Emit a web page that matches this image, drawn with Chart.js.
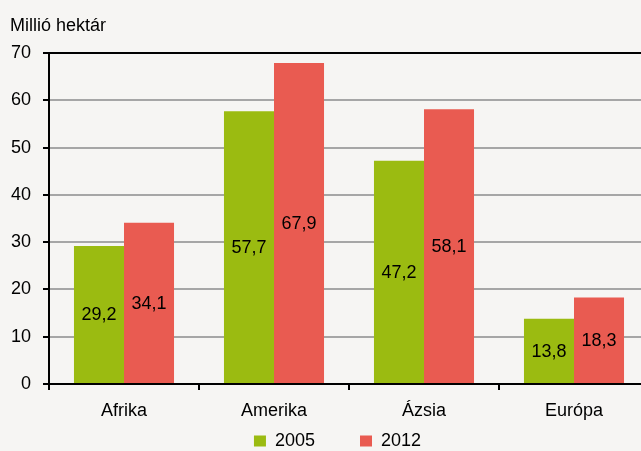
<!DOCTYPE html>
<html>
<head>
<meta charset="utf-8">
<script src="https://cdn.jsdelivr.net/npm/chart.js@4"></script>
<style>
  html, body { margin: 0; padding: 0; background: #f6f5f3; overflow: hidden; }
  #wrap { width: 660px; height: 460px; }
</style>
</head>
<body>
<div id="wrap"><canvas id="chart"></canvas></div>
<script>
// adatok
const categories = ['Afrika', 'Amerika', 'Ázsia', 'Európa'];
const values2005 = [29.2, 57.7, 47.2, 13.8];
const values2012 = [34.1, 67.9, 58.1, 18.3];
const seriesLabels = ['2005', '2012'];
const yTicks = [0, 10, 20, 30, 40, 50, 60, 70];
const yTitle = 'Millió hektár';

const FONT = { family: '"Liberation Sans", Arial, sans-serif', size: 18 };

// tengelycím bal felül
const axisTitle = {
    id: 'axisTitle',
    afterDraw(chart) {
        const ctx = chart.ctx;
        ctx.save();
        ctx.font = `${FONT.size}px ${FONT.family}`;
        ctx.fillStyle = '#000';
        ctx.textAlign = 'left';
        ctx.textBaseline = 'alphabetic';
        ctx.fillText(yTitle, 10, 31);
        ctx.restore();
    }
};

// értékcímkék az oszlopok közepén
const valueLabels = {
    id: 'valueLabels',
    afterDatasetsDraw(chart) {
        const ctx = chart.ctx;
        ctx.save();
        ctx.font = `${FONT.size}px ${FONT.family}`;
        ctx.fillStyle = '#000';
        ctx.textAlign = 'center';
        ctx.textBaseline = 'middle';
        chart.data.datasets.forEach((ds, i) => {
            chart.getDatasetMeta(i).data.forEach((bar, j) => {
                const txt = ds.data[j].toFixed(1).replace('.', ',');
                ctx.fillText(txt, bar.x, (bar.y + bar.base) / 2 + 1);
            });
        });
        ctx.restore();
    }
};

new Chart(document.getElementById('chart'), {
    type: 'bar',
    data: {
        labels: categories,
        datasets: [
            { label: seriesLabels[0], data: values2005, backgroundColor: '#9bbb11' },
            { label: seriesLabels[1], data: values2012, backgroundColor: '#e95b51' }
        ]
    },
    options: {
        responsive: true,
        maintainAspectRatio: false,
        animation: false,
        layout: { padding: { left: 0, right: 11, top: 53, bottom: 0 } },
        datasets: { bar: { categoryPercentage: 0.667, barPercentage: 1.0, borderWidth: 0 } },
        plugins: {
            title: { display: false },
            legend: {
                position: 'bottom',
                fullSize: false,
                labels: {
                    color: '#000',
                    font: FONT,
                    boxWidth: 12,
                    boxHeight: 11,
                    padding: 4,
                    // szélesebb térköz a két elem között
                    generateLabels(chart) {
                        const items = Chart.defaults.plugins.legend.labels.generateLabels(chart);
                        items[0].text = items[0].text + '\u2003\u2003 ';
                        items[1].text = items[1].text + '\u2003 ';
                        items.forEach(it => { it.lineWidth = 0; });
                        return items;
                    }
                }
            },
            tooltip: { enabled: false }
        },
        scales: {
            x: {
                afterFit: s => { s.height = 44; },
                grid: {
                    display: true,
                    offset: true,
                    drawOnChartArea: false,
                    tickLength: 6,
                    color: '#000',
                    lineWidth: 2
                },
                border: { color: '#000', width: 2 },
                ticks: { color: '#000', font: FONT, padding: 10 }
            },
            y: {
                min: 0,
                max: 70,
                afterBuildTicks: s => { s.ticks = yTicks.map(v => ({ value: v })); },
                afterFit: s => { s.width = 49; },
                grid: {
                    color: c => (c.tick && c.tick.value === 70) ? '#000' : '#a6a6a6',
                    tickColor: '#000',
                    lineWidth: 2,
                    tickLength: 6
                },
                border: { color: '#000', width: 2 },
                ticks: { color: '#000', font: FONT, padding: 12 }
            }
        }
    },
    plugins: [valueLabels, axisTitle]
});
</script>
</body>
</html>
